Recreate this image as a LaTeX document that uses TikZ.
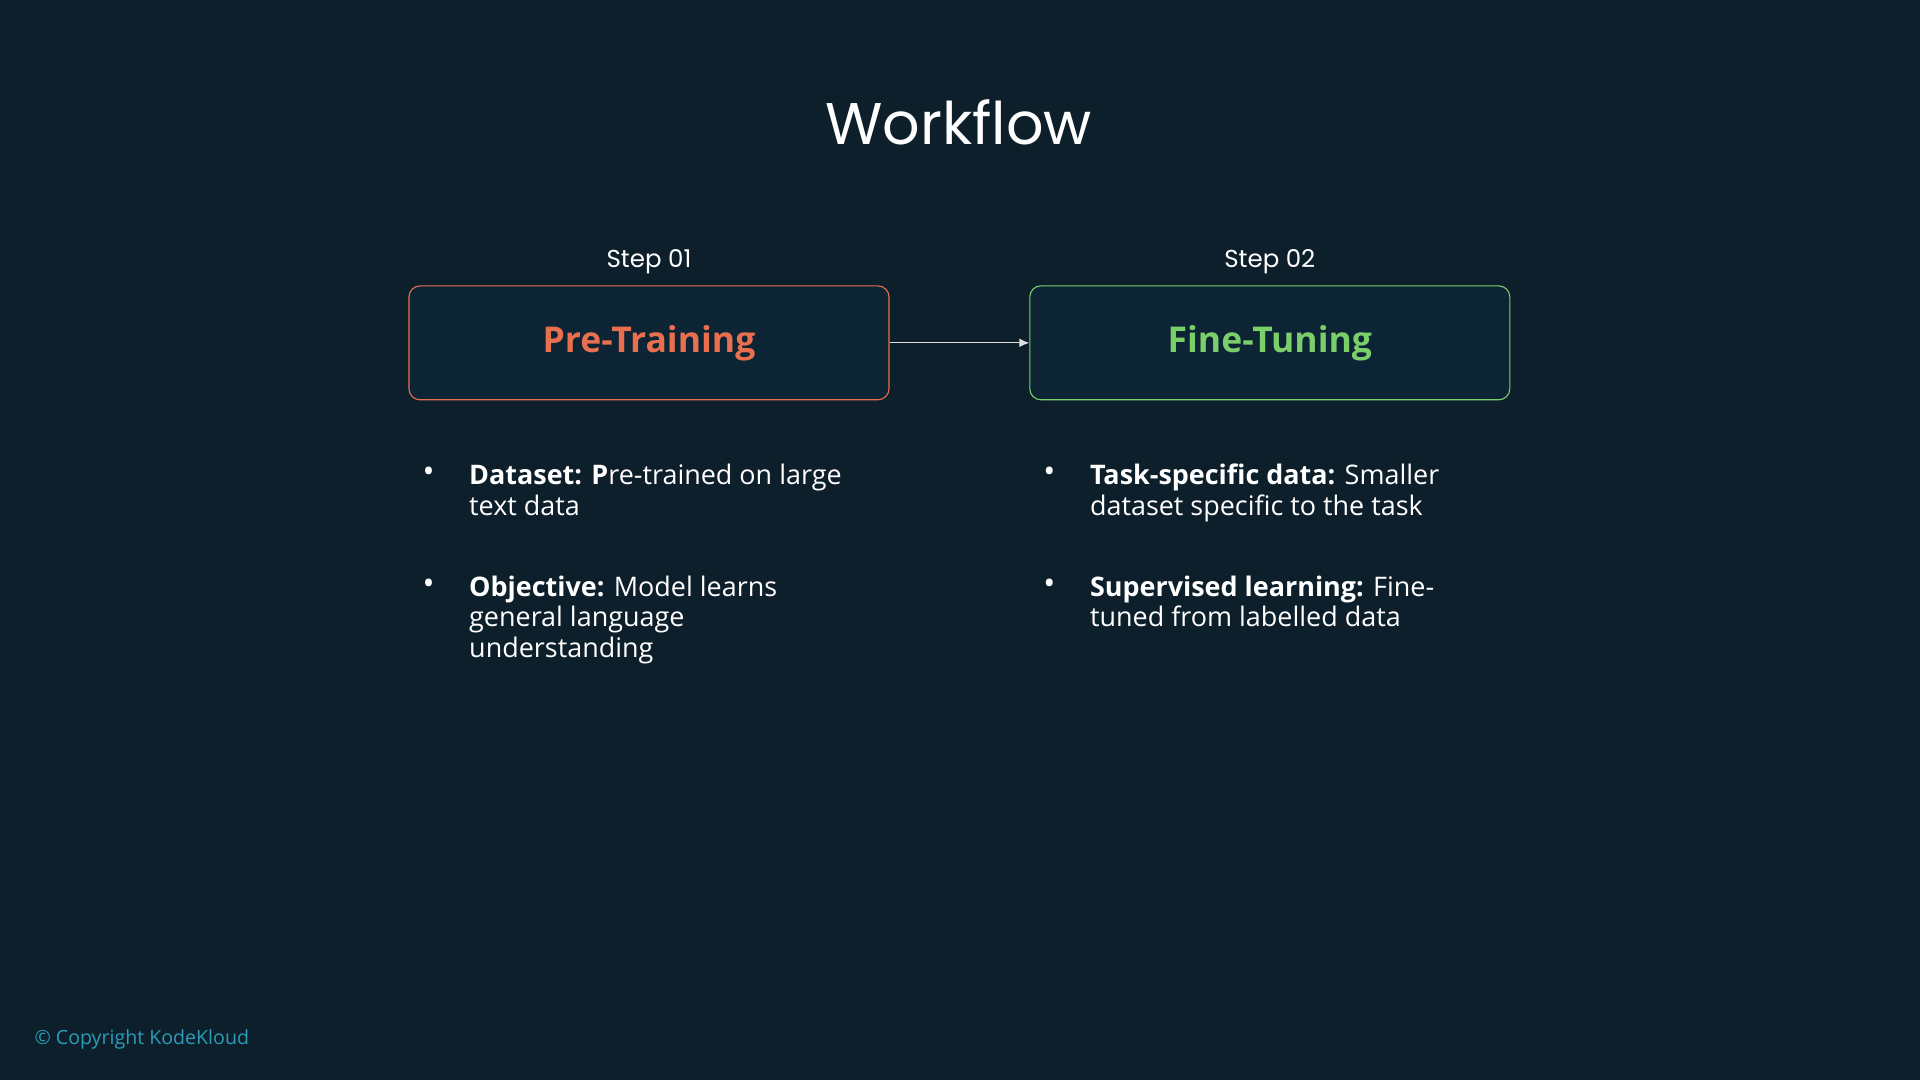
\documentclass[tikz,border=0pt]{standalone}
\usepackage{fontspec}
\setmainfont{Open Sans}
\newfontfamily\titlefont{Poppins}
\usetikzlibrary{positioning,arrows.meta}
\definecolor{bgcol}{HTML}{0E1F2C}
\definecolor{boxfill}{HTML}{0C2434}
\definecolor{orangecol}{HTML}{E8704F}
\definecolor{greencol}{HTML}{7BCF6A}
\definecolor{copycol}{HTML}{2A9DB8}
\tikzset{
  stepbox/.style={draw, rounded corners=9pt, fill=boxfill, line width=0.9pt,
    minimum width=392pt, minimum height=93pt, font=\fontsize{29}{32}\selectfont\bfseries},
  steplabel/.style={text=white, font=\titlefont\fontsize{20}{24}\selectfont},
  bullet/.style={text=white, anchor=north west, align=left, inner sep=0pt,
    font=\fontsize{22}{25}\selectfont},
  dot/.style={text=white, anchor=center, inner sep=0pt, font=\fontsize{26}{25}\selectfont}
}
\begin{document}
\begin{tikzpicture}[x=1pt, y=-1pt, >=latex]
  % background
  \fill[bgcol] (0,0) rectangle (1568,882);
  \useasboundingbox (0,0) rectangle (1568,882);

  % TITLE
  \node[text=white, font=\titlefont\fontsize{48}{56}\selectfont] (title) at (783,100) {Workflow};

  % STEP BOXES
  \node[stepbox, draw=orangecol, text=orangecol] (pre) at (530,280) {\raisebox{-3pt}{Pre-Training}};
  \node[stepbox, draw=greencol, text=greencol] (fine) at (1037,280) {\raisebox{-3pt}{Fine-Tuning}};
  \node[steplabel, above=6pt of pre] (stepa) {Step 01};
  \node[steplabel, above=6pt of fine] (stepb) {Step 02};

  % connector
  \draw[-{Latex[length=8pt,width=7pt]}, white!75!gray, line width=0.8pt] (pre) -- (fine);

  % BULLETS, left
  \node[dot] (da) at (350,388) {•};
  \node[bullet] (ba) at (383,379) {\textbf{Dataset: P}re-trained on large\\text data};
  \node[dot] (db) at (350,479) {•};
  \node[bullet] (bb) at (383,470) {\textbf{Objective:} Model learns\\general language\\understanding};

  % BULLETS, right
  \node[dot] (dc) at (857,388) {•};
  \node[bullet] (bc) at (890,379) {\textbf{Task-specific data:} Smaller\\dataset specific to the task};
  \node[dot] (dd) at (857,479) {•};
  \node[bullet] (bd) at (890,470) {\textbf{Supervised learning:} Fine-\\tuned from labelled data};

  % copyright
  \node[text=copycol, anchor=west, inner sep=0pt, font=\fontsize{16}{18}\selectfont] (copy) at (28,849) {© Copyright KodeKloud};
\end{tikzpicture}
\end{document}
